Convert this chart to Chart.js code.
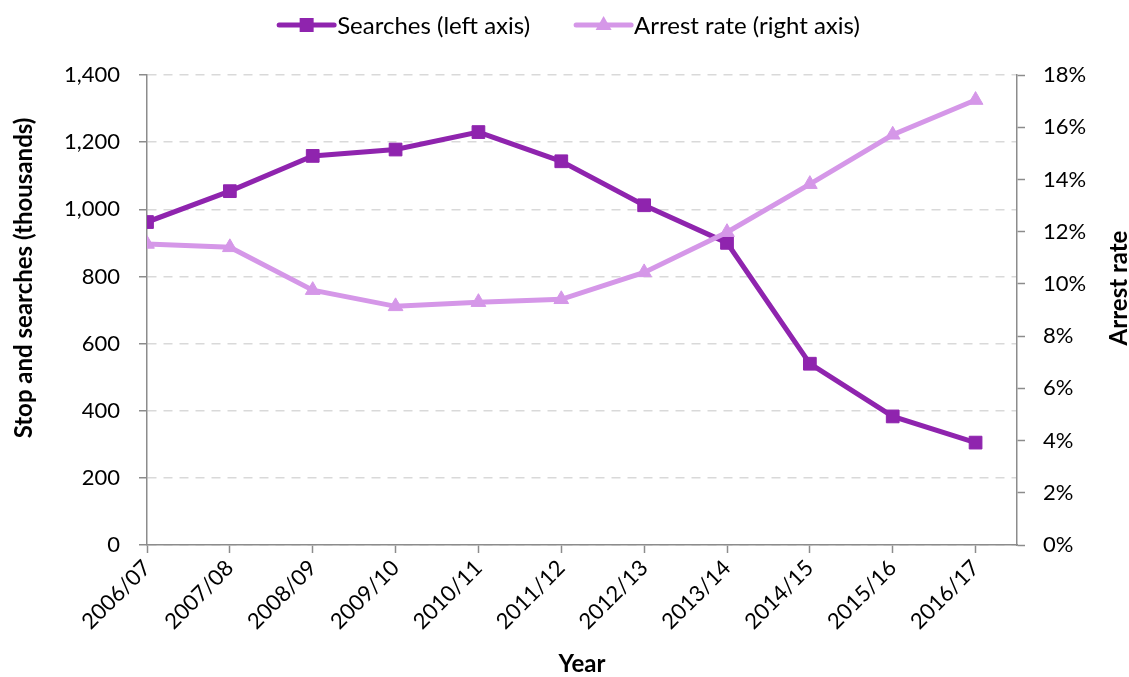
<!DOCTYPE html>
<html>
<head>
<meta charset="utf-8">
<title>Stop and searches and arrest rate</title>
<script src="https://cdn.jsdelivr.net/npm/chart.js@4.4.1/dist/chart.umd.min.js"></script>
<style>
    html, body { margin: 0; padding: 0; background: #fff; }
    #wrap { width: 1129px; height: 677px; }
</style>
</head>
<body>
<div id="wrap"><canvas id="chart" width="1129" height="677"></canvas></div>
<script>
// --- Data ---
const years = ['2006/07', '2007/08', '2008/09', '2009/10', '2010/11', '2011/12',
               '2012/13', '2013/14', '2014/15', '2015/16', '2016/17'];
const searches = [962, 1054, 1159, 1178, 1230, 1143, 1012, 900, 540, 383, 305];   // thousands
const arrestRate = [11.53, 11.40, 9.76, 9.14, 9.30, 9.41, 10.44, 11.98, 13.82, 15.71, 17.04]; // %
const leftMax = 1400, leftStep = 200;
const rightMax = 18, rightStep = 2;

const SEARCH_COLOR = '#8f24ae';
const ARREST_COLOR = '#d597e8';
const AXIS_COLOR = '#8c8c8c';
const FONT = 'Lato, "Open Sans", sans-serif';

Chart.defaults.font.family = FONT;
Chart.defaults.font.size = 22;
Chart.defaults.color = '#000';

// legend + rotated y titles, drawn on the canvas
const decorations = {
    id: 'decorations',
    afterDraw(chart) {
        const ctx = chart.ctx;
        ctx.save();

        // legend
        const items = [
            { text: 'Searches (left axis)', color: SEARCH_COLOR, marker: 'rect' },
            { text: 'Arrest rate (right axis)', color: ARREST_COLOR, marker: 'triangle' }
        ];
        const lineLen = 55, textGap = 3, itemGap = 46, legendY = 25;
        ctx.font = '24px ' + FONT;
        const widths = items.map(it => ctx.measureText(it.text).width);
        const total = widths.reduce((a, w) => a + lineLen + textGap + w, 0) + itemGap;
        let x = chart.width / 2 + 5 - total / 2;
        items.forEach((it, i) => {
            ctx.strokeStyle = it.color;
            ctx.fillStyle = it.color;
            ctx.lineWidth = 5;
            ctx.lineCap = 'round';
            ctx.beginPath();
            ctx.moveTo(x, legendY);
            ctx.lineTo(x + lineLen, legendY);
            ctx.stroke();
            const mx = x + lineLen / 2;
            ctx.beginPath();
            if (it.marker === 'rect') {
                ctx.rect(mx - 7, legendY - 7, 14, 14);
            } else {
                ctx.moveTo(mx, legendY - 9);
                ctx.lineTo(mx + 8, legendY + 5);
                ctx.lineTo(mx - 8, legendY + 5);
                ctx.closePath();
            }
            ctx.fill();
            ctx.fillStyle = '#000';
            ctx.textBaseline = 'middle';
            ctx.textAlign = 'left';
            ctx.fillText(it.text, x + lineLen + textGap, legendY + 1);
            x += lineLen + textGap + widths[i] + itemGap;
        });

        // y axis titles (both read bottom to top)
        ctx.font = 'bold 24px ' + FONT;
        ctx.fillStyle = '#000';
        ctx.textAlign = 'center';
        ctx.textBaseline = 'middle';
        [[24, 278, 'Stop and searches (thousands)'], [1119, 288, 'Arrest rate']].forEach(([tx, ty, t]) => {
            ctx.save();
            ctx.translate(tx, ty);
            ctx.rotate(-Math.PI / 2);
            ctx.fillText(t, 0, 0);
            ctx.restore();
        });
        ctx.restore();
    }
};

new Chart(document.getElementById('chart'), {
    type: 'line',
    data: {
        datasets: [
            {
                label: 'Arrest rate (right axis)',
                data: arrestRate.map((v, i) => ({ x: i, y: v })),
                yAxisID: 'yRight',
                borderColor: ARREST_COLOR,
                backgroundColor: ARREST_COLOR,
                borderWidth: 5,
                pointStyle: 'triangle',
                pointRadius: 8.5,
                pointBorderWidth: 1,
                tension: 0,
                order: 0
            },
            {
                label: 'Searches (left axis)',
                data: searches.map((v, i) => ({ x: i, y: v })),
                yAxisID: 'yLeft',
                borderColor: SEARCH_COLOR,
                backgroundColor: SEARCH_COLOR,
                borderWidth: 5,
                pointStyle: 'rect',
                pointRadius: 9,
                pointBorderWidth: 1,
                tension: 0,
                order: 1
            }
        ]
    },
    options: {
        responsive: false,
        devicePixelRatio: 1,
        animation: false,
        layout: { padding: { top: 75, left: 0, right: 0, bottom: 0 } },
        plugins: {
            legend: { display: false },
            tooltip: { enabled: false }
        },
        scales: {
            x: {
                type: 'linear',
                min: 0,
                max: years.length - 0.5,
                afterFit: s => { s.height = 132; },
                grid: { drawOnChartArea: false, tickLength: 8, tickColor: AXIS_COLOR, tickWidth: 1.5 },
                border: { display: true, color: AXIS_COLOR, width: 1.5 },
                ticks: {
                    stepSize: 1,
                    includeBounds: false,
                    autoSkip: false,
                    minRotation: 45,
                    maxRotation: 45,
                    padding: 2,
                    callback: v => years[v] ?? ''
                },
                title: {
                    display: true,
                    text: 'Year',
                    font: { weight: 'bold', size: 24 },
                    padding: { top: 0, bottom: -2 }
                }
            },
            yLeft: {
                position: 'left',
                min: 0,
                max: leftMax,
                afterFit: s => { s.width = 147; },
                grid: {
                    color: '#d9d9d9',
                    lineWidth: 1.5,
                    tickLength: 8,
                    tickColor: AXIS_COLOR,
                    tickWidth: 1.5
                },
                border: { display: true, color: AXIS_COLOR, width: 1.5, dash: [9, 7] },
                ticks: {
                    stepSize: leftStep,
                    padding: 19,
                    callback: v => v.toLocaleString('en-GB')
                }
            },
            yRight: {
                position: 'right',
                min: 0,
                max: rightMax,
                afterFit: s => { s.width = 112; },
                grid: { drawOnChartArea: false, tickLength: 8, tickColor: AXIS_COLOR, tickWidth: 1.5 },
                border: { display: true, color: AXIS_COLOR, width: 1.5 },
                ticks: {
                    stepSize: rightStep,
                    padding: 18,
                    callback: v => v + '%'
                }
            }
        }
    },
    plugins: [decorations]
});
</script>
</body>
</html>
